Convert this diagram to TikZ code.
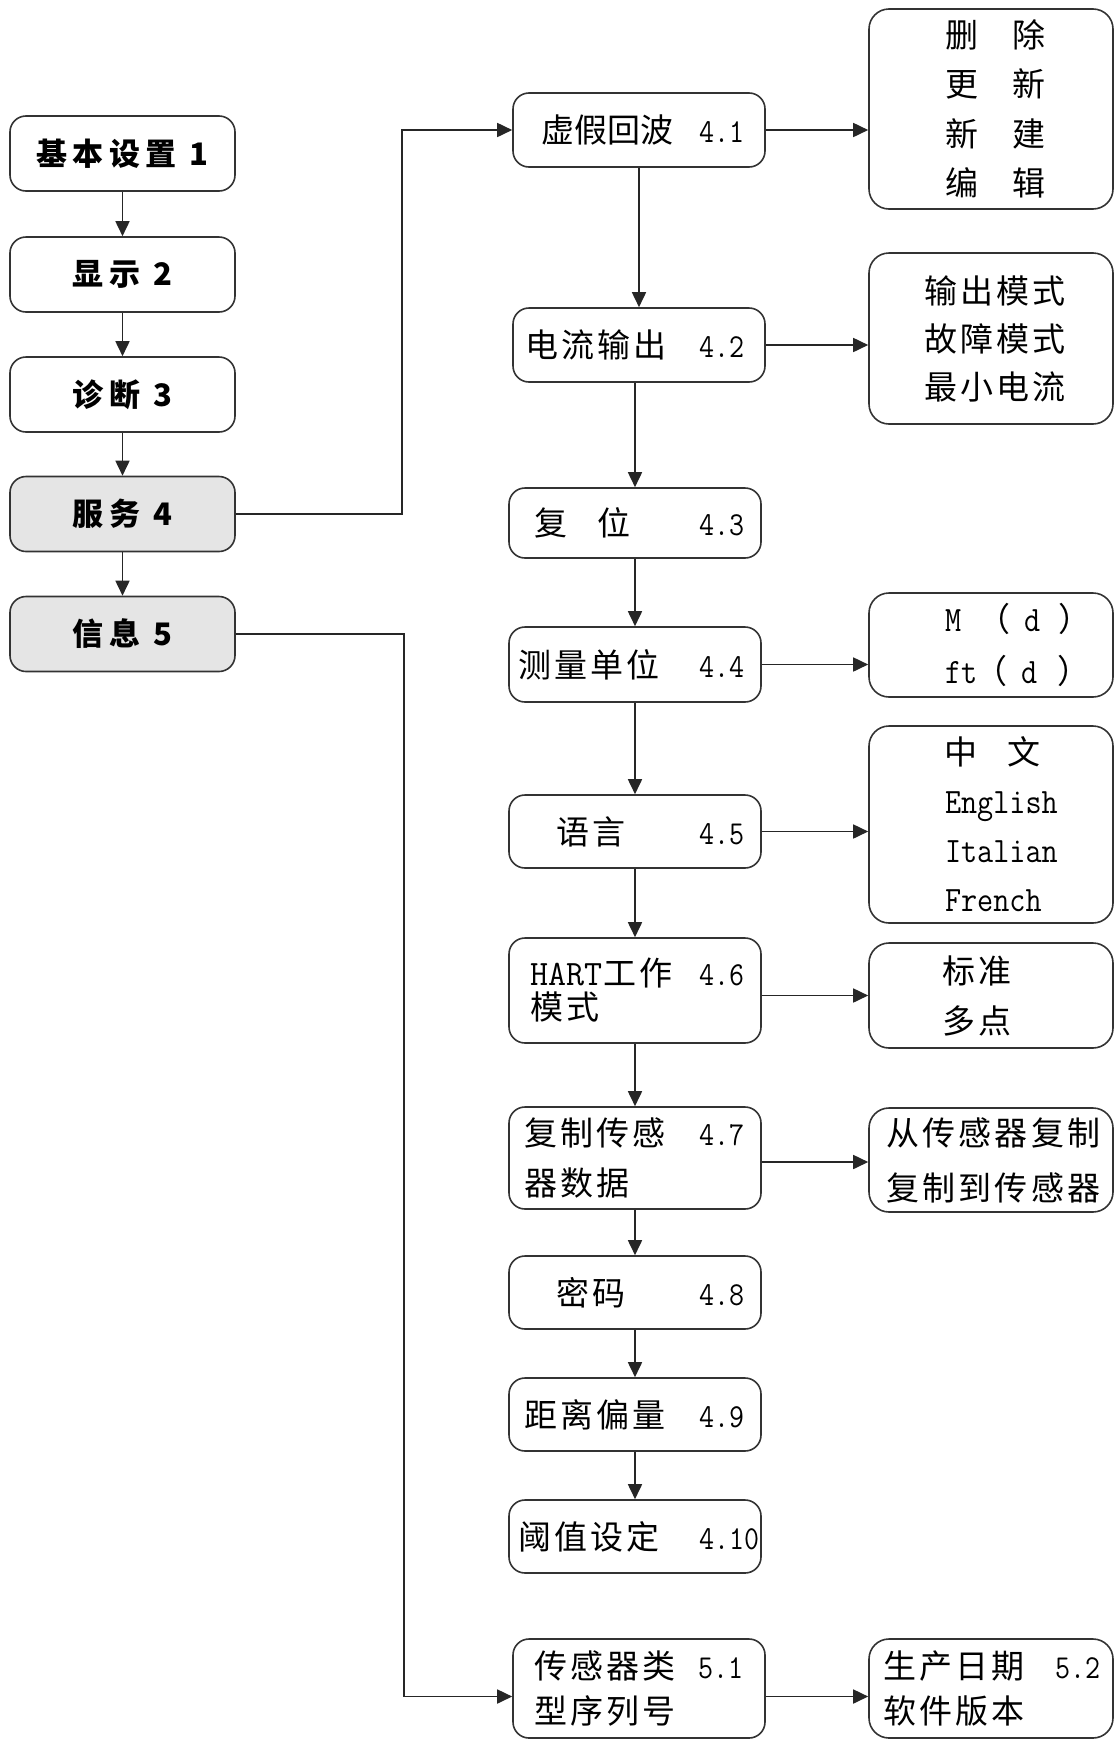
\documentclass[tikz,border=0pt]{standalone}
\usepackage{fontspec}
\usetikzlibrary{arrows.meta}
\newfontfamily\cjk[LetterSpace=10]{Noto Sans CJK SC}
\newfontfamily\cjktight{Noto Sans CJK SC}
\newfontfamily\cjkhead[LetterSpace=17]{Noto Sans CJK SC}
\newcommand\nm[1]{\scalebox{0.94}[1.08]{\ttfamily\fontsize{31}{30}\selectfont #1}}
\newcommand\en[1]{\scalebox{0.92}[1.05]{\ttfamily\fontsize{34}{30}\selectfont #1}}
\newcommand\hart{\scalebox{1}[1.02]{\ttfamily\fontsize{35}{30}\selectfont HART}}
% middle row: offset, number position, label, number
\newcommand\mrow[4]{\hspace*{#1pt}\makebox[\dimexpr #2pt-#1pt\relax][l]{#3}\nm{#4}}
\begin{document}
\begin{tikzpicture}[x=1pt,y=-1pt,
  edge/.style={line width=1.7pt,draw=black!85},
  arr/.style={edge,-{Triangle[length=15pt,width=14pt]}},
  lbox/.style={draw=black!80,line width=1.6pt,rounded corners=16pt,minimum width=225pt,minimum height=75pt,inner sep=0pt,font=\cjkhead\bfseries\fontsize{31}{34}\selectfont},
  gbox/.style={lbox,fill=black!10},
  mbox/.style={draw=black!80,line width=1.6pt,rounded corners=16pt,text width=252pt,inner xsep=0pt,inner ysep=0pt,align=left,font=\cjk\fontsize{33}{#1}\selectfont},
  rbox/.style={draw=black!80,line width=1.6pt,rounded corners=20pt,text width=244pt,inner xsep=0pt,inner ysep=0pt,align=left,font=\cjk\fontsize{33}{#1}\selectfont}]
\useasboundingbox (0,0) rectangle (1115,1740);

% left column
\node[lbox] (n1) at (122.5,153.5) {基本设置\hspace{13pt}1};
\node[lbox] (n2) at (122.5,274.5) {显示\hspace{13pt}2};
\node[lbox] (n3) at (122.5,394.5) {诊断\hspace{13pt}3};
\node[gbox] (n4) at (122.5,514) {服务\hspace{13pt}4};
\node[gbox] (n5) at (122.5,634) {信息\hspace{13pt}5};

% middle column
\node[mbox=36,minimum height=74pt] (m41) at (639,130) {\mrow{28}{186}{\cjktight 虚假回波}{4.1}};
\node[mbox=36,minimum height=74pt] (m42) at (639,345) {\mrow{12}{186}{电流输出}{4.2}};
\node[mbox=36,minimum height=70pt] (m43) at (635,523) {\mrow{25}{190}{复\hspace{31pt}位}{4.3}};
\node[mbox=36,minimum height=75pt] (m44) at (635,664.5) {\mrow{9}{190}{测量单位}{4.4}};
\node[mbox=36,minimum height=73pt] (m45) at (635,831.5) {\mrow{47}{190}{语言}{4.5}};
\node[mbox=34,minimum height=105pt] (m46) at (635,990.5) {\mrow{21}{190}{\hart\hspace{1pt}工作}{4.6}\\\hspace*{21pt}模式};
\node[mbox=50,minimum height=102pt] (m47) at (635,1158) {\mrow{15}{190}{复制传感}{4.7}\\\hspace*{15pt}器数据};
\node[mbox=36,minimum height=73pt] (m48) at (635,1292.5) {\mrow{47}{190}{密码}{4.8}};
\node[mbox=36,minimum height=73pt] (m49) at (635,1414.5) {\mrow{15}{190}{距离偏量}{4.9}};
\node[mbox=36,minimum height=73pt] (m410) at (635,1536.5) {\mrow{9}{190}{阈值设定}{4.10}};
\node[mbox=45,minimum height=99pt] (m51) at (639,1688.5) {\mrow{21}{185}{传感器类}{5.1}\\\hspace*{21pt}型序列号};

% right column
\node[rbox=49.5,minimum height=200pt] (rA) at (991,109) {\hspace*{76pt}删\hspace{34pt}除\\\hspace*{76pt}更\hspace{34pt}新\\\hspace*{76pt}新\hspace{34pt}建\\\hspace*{76pt}编\hspace{34pt}辑};
\node[rbox=48,minimum height=171pt] (rB) at (991,338.5) {\hspace*{55pt}输出模式\\\hspace*{55pt}故障模式\\\hspace*{55pt}最小电流};
\node[rbox=52,minimum height=104pt] (rC) at (991,645) {\hspace*{76pt}\en{M}\hspace{16pt}（\hspace{14pt}\en{d}\hspace{18pt}）\\\hspace*{76pt}\en{ft}\hspace{-3pt}（\hspace{14pt}\en{d}\hspace{20pt}）};
\node[rbox=49,minimum height=197pt] (rD) at (991,824.5) {\hspace*{75pt}中\hspace{31pt}文\\\hspace*{76pt}\en{English}\\\hspace*{76pt}\en{Italian}\\\hspace*{76pt}\en{French}};
\node[rbox=50,minimum height=105pt] (rE) at (991,995.5) {\hspace*{73pt}标准\\\hspace*{73pt}多点};
\node[rbox=55,minimum height=104pt] (rF) at (991,1160) {\hspace*{17pt}从传感器复制\\\hspace*{17pt}复制到传感器};
\node[rbox=45,minimum height=99pt] (rG) at (991,1688.5) {\hspace*{14pt}\makebox[172pt][l]{生产日期}\nm{5.2}\\\hspace*{14pt}软件版本};

% left column arrows
\draw[arr] (n1) -- (n2);
\draw[arr] (n2) -- (n3);
\draw[arr] (n3) -- (n4);
\draw[arr] (n4) -- (n5);

% branch connectors
\coordinate (j4) at (402,0);
\coordinate (j5) at (404,0);
\coordinate (m51in) at ([yshift=-8pt]m51.west);
\draw[arr] (n4.east) -- (n4.east -| j4) -- (j4 |- m41.west) -- (m41.west);
\draw[arr] (n5.east) -- (n5.east -| j5) -- (j5 |- m51in) -- (m51in);

% middle column arrows
\draw[arr] (m41) -- (m42);
\draw[arr] (m43.north |- m42.south) -- (m43.north);
\draw[arr] (m43) -- (m44);
\draw[arr] (m44) -- (m45);
\draw[arr] (m45) -- (m46);
\draw[arr] (m46) -- (m47);
\draw[arr] (m47) -- (m48);
\draw[arr] (m48) -- (m49);
\draw[arr] (m49) -- (m410);

% right arrows
\coordinate (m46out) at ([yshift=-5pt]m46.east);
\coordinate (m47out) at ([yshift=-4pt]m47.east);
\coordinate (m51out) at ([yshift=-8pt]m51.east);
\draw[arr] (m41.east) -- (m41.east -| rA.west);
\draw[arr] (m42.east) -- (m42.east -| rB.west);
\draw[arr] (m44.east) -- (m44.east -| rC.west);
\draw[arr] (m45.east) -- (m45.east -| rD.west);
\draw[arr] (m46out) -- (m46out -| rE.west);
\draw[arr] (m47out) -- (m47out -| rF.west);
\draw[arr] (m51out) -- (m51out -| rG.west);
\end{tikzpicture}
\end{document}
